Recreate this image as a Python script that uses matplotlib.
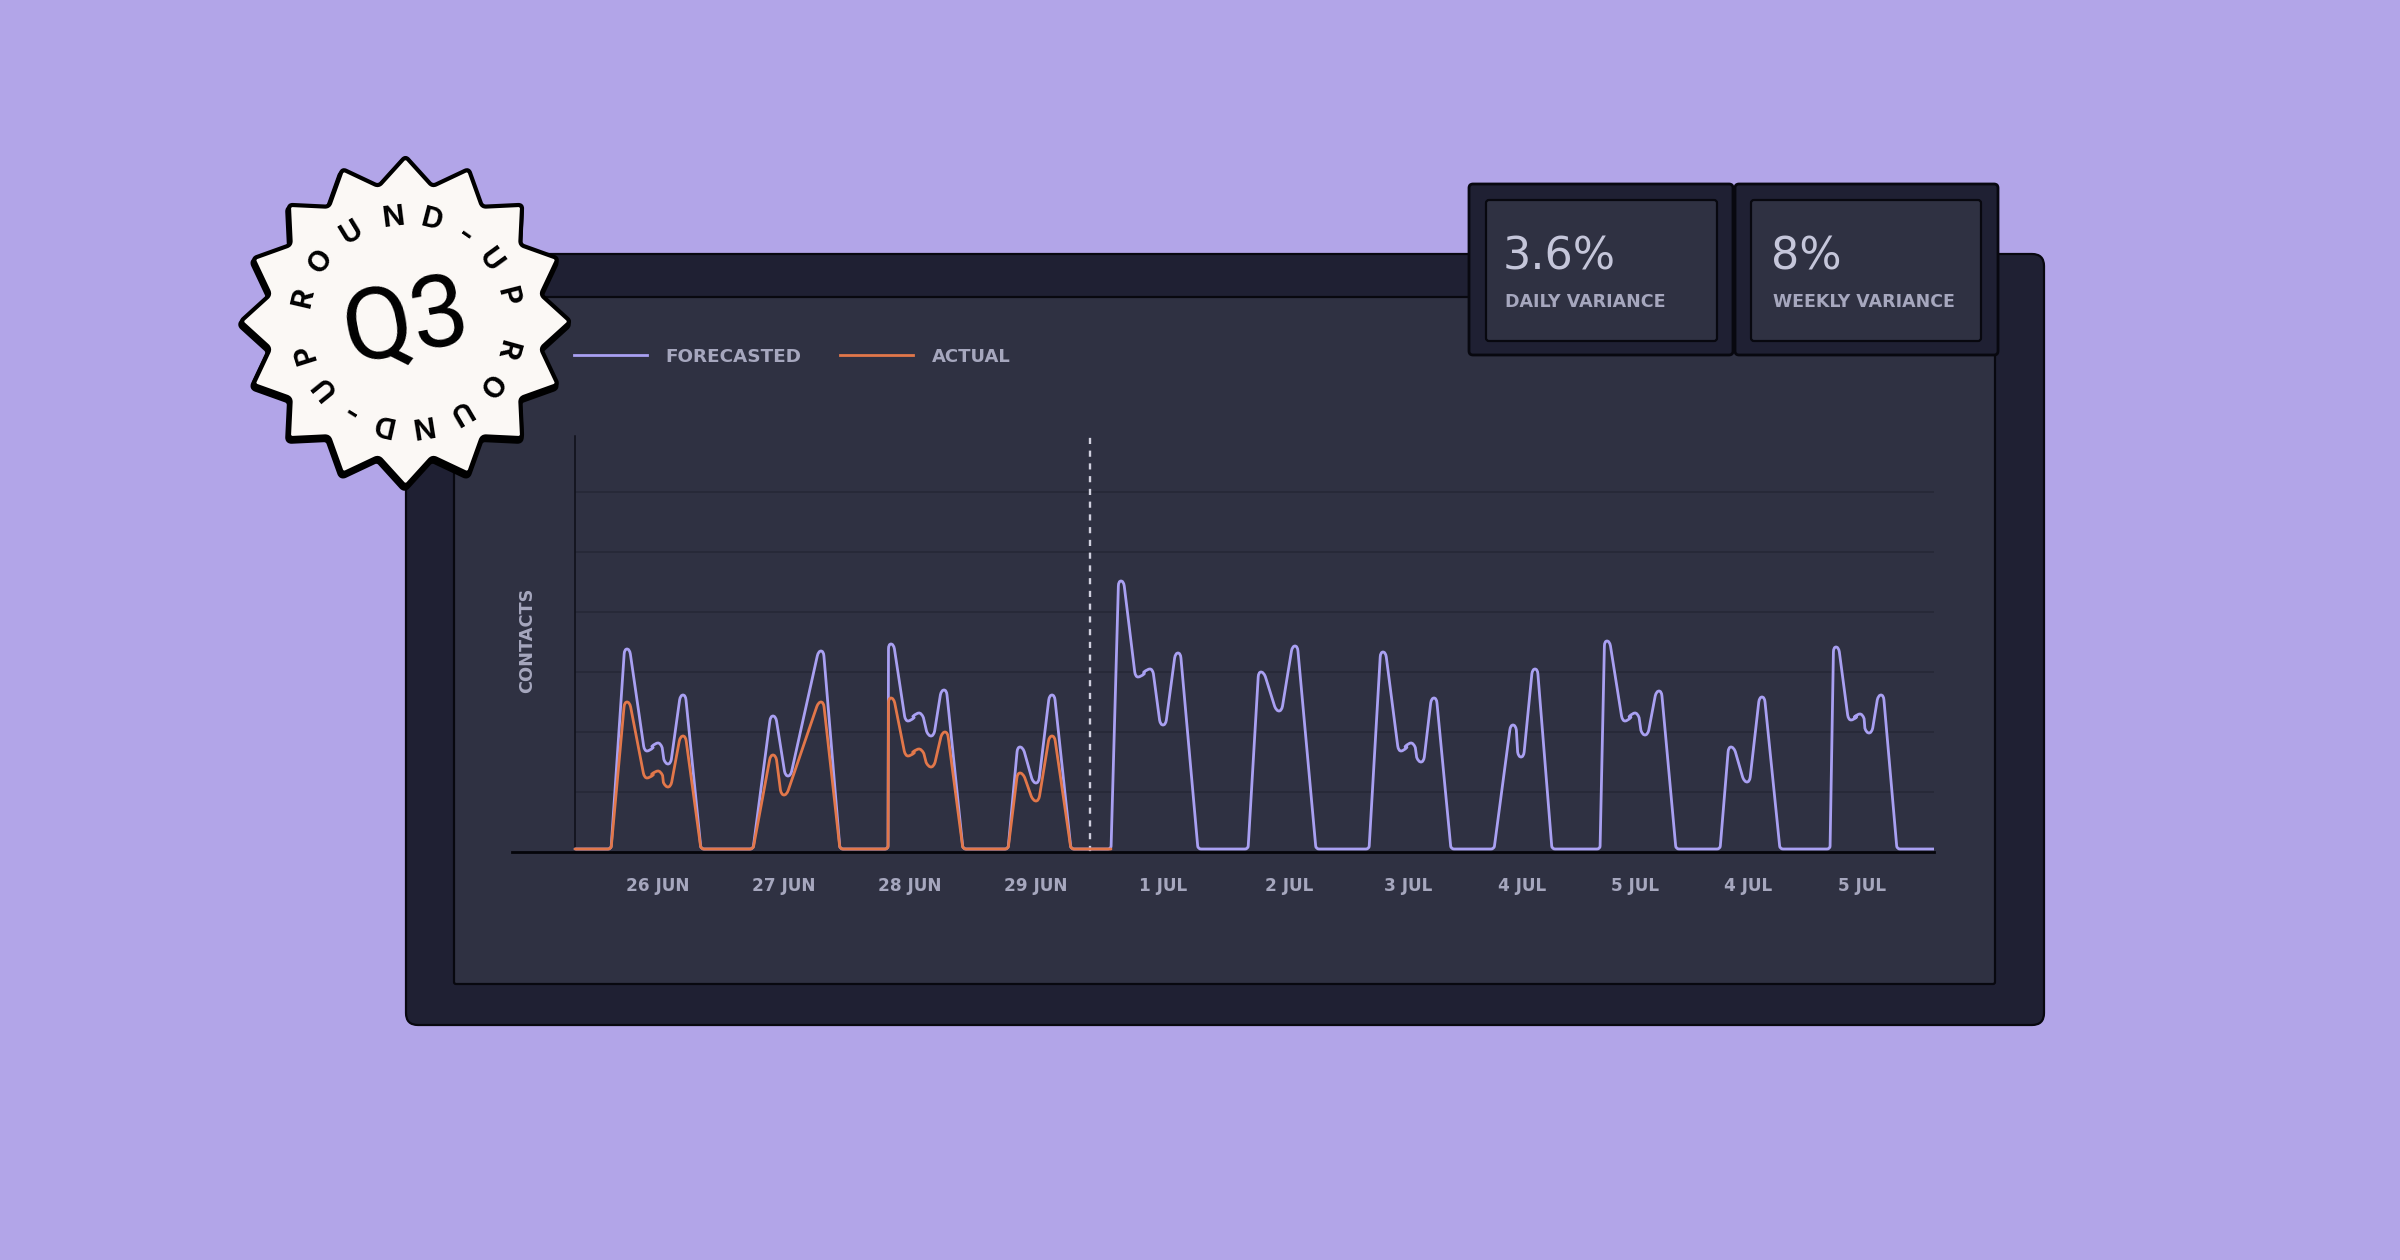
import numpy as np
import matplotlib
matplotlib.use("Agg")
import matplotlib.pyplot as plt
from matplotlib.patches import FancyBboxPatch, PathPatch
from matplotlib.path import Path

BG = "#B2A5E8"
FRAME = "#1F2033"
PANEL = "#2F3142"
PURPLE = "#A9A0F2"
ORANGE = "#E2774A"
GRID = "#272938"
MUTED = "#A6A7BE"
LABEL_FONT = "DejaVu Sans"

forecast_x = [0, 36, 52, 72, 83, 93, 108, 126,
              178, 198, 213, 246, 265,
              313, 316, 333, 344, 356, 369, 388,
              433, 445, 461, 477, 496,
              536, 546, 563, 575, 588, 603, 623,
              673, 686, 704, 720, 741,
              794, 808, 826, 836, 846, 859, 876,
              919, 938, 946, 960, 977,
              1025, 1032, 1050, 1060, 1070, 1084, 1101,
              1145, 1156, 1172, 1187, 1205,
              1255, 1261, 1276, 1285, 1294, 1306, 1322, 1359]
forecast_y = [3, 3, 203, 101, 109, 88, 157, 3,
              3, 136, 76, 201, 3,
              3, 208, 131, 139, 116, 162, 3,
              3, 105, 69, 157, 3,
              3, 271, 175, 183, 127, 199, 3,
              3, 180, 141, 206, 3,
              3, 200, 101, 109, 90, 154, 3,
              3, 127, 95, 183, 3,
              3, 211, 131, 139, 117, 161, 3,
              3, 105, 70, 155, 3,
              3, 205, 132, 138, 119, 157, 3, 3]

actual_x = [0, 36, 52, 72, 83, 93, 108, 126,
            178, 198, 209, 246, 265,
            313, 316, 333, 344, 356, 370, 388,
            433, 445, 461, 477, 496, 536]
actual_y = [3, 3, 150, 74, 81, 65, 116, 3,
            3, 97, 57, 150, 3,
            3, 154, 96, 103, 85, 120, 3,
            3, 79, 51, 116, 3, 3]

tick_pos = [83, 209, 335, 461, 588, 714, 833, 947, 1060, 1173, 1287]
tick_labels = ["26 JUN", "27 JUN", "28 JUN", "29 JUN", "1 JUL", "2 JUL",
               "3 JUL", "4 JUL", "5 JUL", "4 JUL", "5 JUL"]
grid_levels = [60, 120, 180, 240, 300, 360]
today_x = 515

badge_letters = list("ROUND-UPROUND-UP")
badge_angles = [283, 305.5, 328.5, 353, 14.5, 34.8, 54, 75.8,
                105.4, 127, 149.5, 171, 192.5, 212, 231, 252.5]


def rounded_path(xs, ys, corner=3.0, top=2.5, reach=5.0):
    # peaks and dips get a small flat round top, the foot corners just a soft bend
    pts = np.column_stack([xs, ys]).astype(float)
    verts = [pts[0]]
    codes = [Path.MOVETO]
    for i in range(1, len(pts) - 1):
        p, a, b = pts[i], pts[i - 1], pts[i + 1]
        if (a[1] - p[1]) * (b[1] - p[1]) > 0:
            left = p - [top, 0]
            right = p + [top, 0]
            d1 = np.linalg.norm(a - left)
            d2 = np.linalg.norm(b - right)
            s = left + (a - left) / d1 * min(reach, d1 / 2)
            e = right + (b - right) / d2 * min(reach, d2 / 2)
            verts += [s, left, p, right, e]
            codes += [Path.LINETO, Path.CURVE3, Path.CURVE3, Path.CURVE3, Path.CURVE3]
        else:
            d1 = np.linalg.norm(a - p)
            d2 = np.linalg.norm(b - p)
            s = p + (a - p) / d1 * min(corner, d1 / 2)
            e = p + (b - p) / d2 * min(corner, d2 / 2)
            verts += [s, p, e]
            codes += [Path.LINETO, Path.CURVE3, Path.CURVE3]
    verts.append(pts[-1])
    codes.append(Path.LINETO)
    return Path(verts, codes)


def star_path(cx, cy, outer, inner, n=16, r=4.0):
    ang = np.deg2rad(np.arange(2 * n) * 180 / n)
    rad = np.where(np.arange(2 * n) % 2 == 0, outer, inner)
    pts = np.column_stack([cx + rad * np.sin(ang), cy - rad * np.cos(ang)])
    verts, codes = [], []
    for i, p in enumerate(pts):
        a, b = pts[i - 1], pts[(i + 1) % len(pts)]
        s = p + (a - p) / np.linalg.norm(a - p) * r
        e = p + (b - p) / np.linalg.norm(b - p) * r
        verts += [s, p, e]
        codes += [Path.MOVETO if i == 0 else Path.LINETO, Path.CURVE3, Path.CURVE3]
    verts.append(verts[0])
    codes.append(Path.CLOSEPOLY)
    return Path(verts, codes)


def box(ax, x0, y0, x1, y1, color, r=4, lw=1.6, edge="#08080F", z=1):
    ax.add_patch(FancyBboxPatch((x0 + r, y0 + r), x1 - x0 - 2 * r, y1 - y0 - 2 * r,
                                boxstyle=f"round,pad={r},rounding_size={r}",
                                fc=color, ec=edge, lw=lw, zorder=z))


fig = plt.figure(figsize=(24, 12.6), dpi=100, facecolor=BG)

# pixel canvas behind the chart for the frames
back = fig.add_axes([0, 0, 1, 1], zorder=0)
back.set_xlim(0, 2400)
back.set_ylim(1260, 0)
back.axis("off")
box(back, 406, 254, 2044, 1025, FRAME, r=12)
box(back, 454, 297, 1995, 984, PANEL, r=2)

# chart
ax = fig.add_axes([512 / 2400, (1260 - 852) / 1260, 1422 / 2400, 416 / 1260], zorder=1)
ax.patch.set_alpha(0)
ax.set_xlim(-63, 1359)
ax.set_ylim(0, 416)
for s in ["top", "right"]:
    ax.spines[s].set_visible(False)
ax.spines["left"].set_position(("data", 0))
ax.spines["left"].set_color("#0E0F18")
ax.spines["left"].set_linewidth(1.1)
ax.spines["bottom"].set_color("#05050A")
ax.spines["bottom"].set_linewidth(2.0)
ax.set_yticks([])
ax.hlines(grid_levels, 0, 1359, color=GRID, lw=1.3, zorder=1)
ax.vlines(today_x, 0, 416, color="#D0D0DE", lw=1.7, linestyles=(0, (2.6, 2.8)), zorder=2)

ax.add_patch(PathPatch(rounded_path(forecast_x, forecast_y), fc="none", ec=PURPLE,
                       lw=2.0, capstyle="round", joinstyle="round", zorder=3))
ax.add_patch(PathPatch(rounded_path(actual_x, actual_y), fc="none", ec=ORANGE,
                       lw=2.0, capstyle="round", joinstyle="round", zorder=4))

ax.set_xticks(tick_pos)
ax.set_xticklabels(tick_labels, family=LABEL_FONT, weight="bold", fontsize=12.2, color=MUTED)
ax.tick_params(axis="x", length=0, pad=18)
ax.text(-48, 212, "CONTACTS", rotation=90, ha="center", va="center", family=LABEL_FONT,
        weight="bold", fontsize=12.8, color=MUTED)

# overlay: legend, cards, badge
front = fig.add_axes([0, 0, 1, 1], zorder=2)
front.set_xlim(0, 2400)
front.set_ylim(1260, 0)
front.axis("off")
front.patch.set_alpha(0)

front.plot([574, 647], [355, 355], color=PURPLE, lw=2.0)
front.plot([840, 913], [355, 355], color=ORANGE, lw=2.0)
front.text(665, 356.5, "FORECASTED", va="center", family=LABEL_FONT, weight="bold",
           fontsize=13.2, color=MUTED)
front.text(932, 356.5, "ACTUAL", va="center", family=LABEL_FONT, weight="bold",
           fontsize=13, color=MUTED)

box(front, 1469, 184, 1733, 355, FRAME, r=4, lw=2)
box(front, 1735, 184, 1998, 355, FRAME, r=4, lw=2)
box(front, 1486, 200, 1717, 341, PANEL, r=3)
box(front, 1751, 200, 1981, 341, PANEL, r=3)
front.text(1503, 270, "3.6%", family="DejaVu Sans", fontsize=32, color="#C5C6DA", va="baseline")
front.text(1771, 270, "8%", family="DejaVu Sans", fontsize=32, color="#C5C6DA", va="baseline")
front.text(1505, 307, "DAILY VARIANCE", family=LABEL_FONT, weight="bold", fontsize=12.6,
           color=MUTED, va="baseline")
front.text(1773, 307, "WEEKLY VARIANCE", family=LABEL_FONT, weight="bold", fontsize=12.5,
           color=MUTED, va="baseline")

# badge, a 16 point star
cx, cy = 405.5, 321.5
star = star_path(cx, cy, 165, 138)
shadow = star_path(cx - 1, cy + 3, 165, 138)
front.add_patch(PathPatch(shadow, fc="black", ec="black", lw=4.0, joinstyle="round", zorder=5))
front.add_patch(PathPatch(star, fc="#FBF8F5", ec="black", lw=3.0, joinstyle="round", zorder=6))
for ch, a in zip(badge_letters, badge_angles):
    t = np.deg2rad(a)
    front.text(cx + 104 * np.sin(t), cy - 104 * np.cos(t), ch, rotation=-a, rotation_mode="anchor",
               ha="center", va="center", family="Inter", weight="bold", fontsize=21, color="black",
               zorder=7)
front.text(cx + 1, cy + 3, "Q3", rotation=11, rotation_mode="anchor", ha="center", va="center",
           family="Roboto", weight="normal", fontsize=73, color="black", zorder=7)

fig.savefig("out.png", dpi=100, facecolor=BG)
